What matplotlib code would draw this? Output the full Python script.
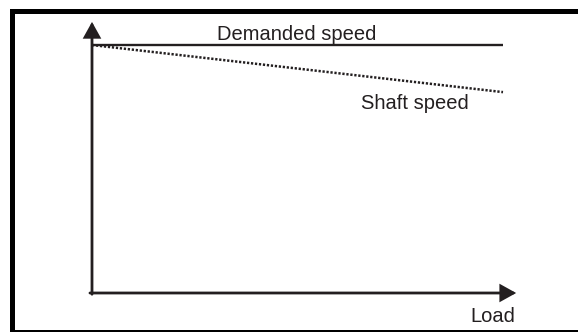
import matplotlib
matplotlib.use("Agg")
import matplotlib.pyplot as plt
from matplotlib.patches import Rectangle

# Data (normalised: load 0..1, speed 0..1)
load = [0.0, 1.0]
demanded_speed = [1.0, 1.0]
shaft_speed = [1.0, 0.81]

labels = {"demanded": "Demanded speed", "shaft": "Shaft speed", "x": "Load"}

W, H = 578, 332
col = "#231f20"
plt.rcParams['font.family'] = ['Liberation Sans', 'DejaVu Sans']

fig = plt.figure(figsize=(W / 100, H / 100), dpi=100)
fig.patch.set_facecolor("white")

# outer frame
fig.patches.append(Rectangle((11.5 / W, 0.5 / H), 1.02, (H - 11 - 0.5) / H,
                             transform=fig.transFigure, fill=False,
                             lw=3.6, edgecolor="black", clip_on=False))

ax = fig.add_axes([92 / W, (H - 293) / H, (503 - 92) / W, 248 / H])
ax.set_xlim(0, 1)
ax.set_ylim(0, 1)
ax.axis("off")

# axes with arrows
arrow = dict(arrowstyle="-|>,head_length=0.9,head_width=0.5", lw=2.0,
             color=col, mutation_scale=10, shrinkA=0, shrinkB=0,
             joinstyle="miter")
ax.annotate("", xy=(0, 1.093), xytext=(0, -0.005), arrowprops=arrow,
            annotation_clip=False)
ax.annotate("", xy=(1.032, 0), xytext=(-0.005, 0), arrowprops=arrow,
            annotation_clip=False)

ax.plot(load, demanded_speed, color=col, lw=1.7, clip_on=False,
        solid_capstyle="butt")
ax.plot(load, shaft_speed, color=col, lw=1.8, clip_on=False,
        linestyle=(0, (0.9, 0.7)), dash_capstyle="butt")

ax.text(0.499, 1.020, labels["demanded"], ha="center", va="baseline",
        fontsize=14.5, color=col)
ax.text(0.917, 0.742, labels["shaft"], ha="right", va="baseline",
        fontsize=14.5, color=col)
ax.text(1.029, -0.117, labels["x"], ha="right", va="baseline",
        fontsize=14.5, color=col)

fig.savefig("out.png", dpi=100, facecolor="white")
